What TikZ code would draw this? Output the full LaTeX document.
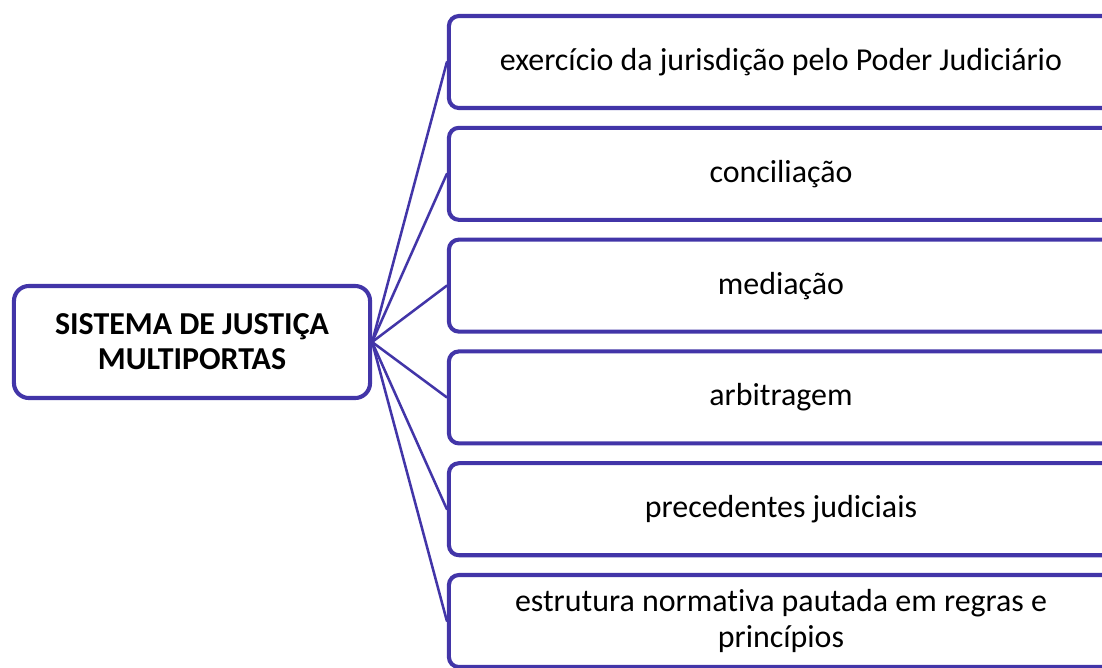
\documentclass[tikz,border=0pt]{standalone}
\usepackage{fontspec}
\setmainfont{Carlito}[Ligatures=NoCommon]
\definecolor{portas}{RGB}{66,53,168}
\begin{document}
\begin{tikzpicture}[x=0.025cm,y=-0.025cm,line join=round,line cap=round,
	font=\fontsize{22.7}{25}\selectfont,
	sistema/.style={rectangle,draw=portas,line width=2.9pt,rounded corners=3.75mm,
		align=center,inner sep=0,minimum width=8.9cm,minimum height=2.8cm,
		font=\fontsize{22.7}{25}\selectfont\bfseries},
	porta/.style={rectangle,draw=portas,line width=2.9pt,rounded corners=2.5mm,
		align=center,inner sep=0,minimum width=16.6cm,minimum height=2.3cm},
	ramo/.style={portas,line width=1.8pt}]
	\useasboundingbox (0,0) rectangle (1102,667);
	\clip (0,0) rectangle (1102,667);
	\path (192,342)node[sistema](s){SISTEMA DE JUSTIÇA\\MULTIPORTAS};
	\path (781,62)node[porta](p1){exercício da jurisdição pelo Poder Judiciário}
	++(0,111.8)node[porta](p2){conciliação}
	++(0,111.8)node[porta](p3){mediação}
	++(0,111.8)node[porta](p4){arbitragem}
	++(0,111.8)node[porta](p5){precedentes judiciais}
	++(0,111.8)node[porta](p6){estrutura normativa pautada em regras e\\princípios}
	;
	\foreach \i in {1,...,6}
	\draw[ramo](s.east)--(p\i.west);
\end{tikzpicture}
\end{document}
